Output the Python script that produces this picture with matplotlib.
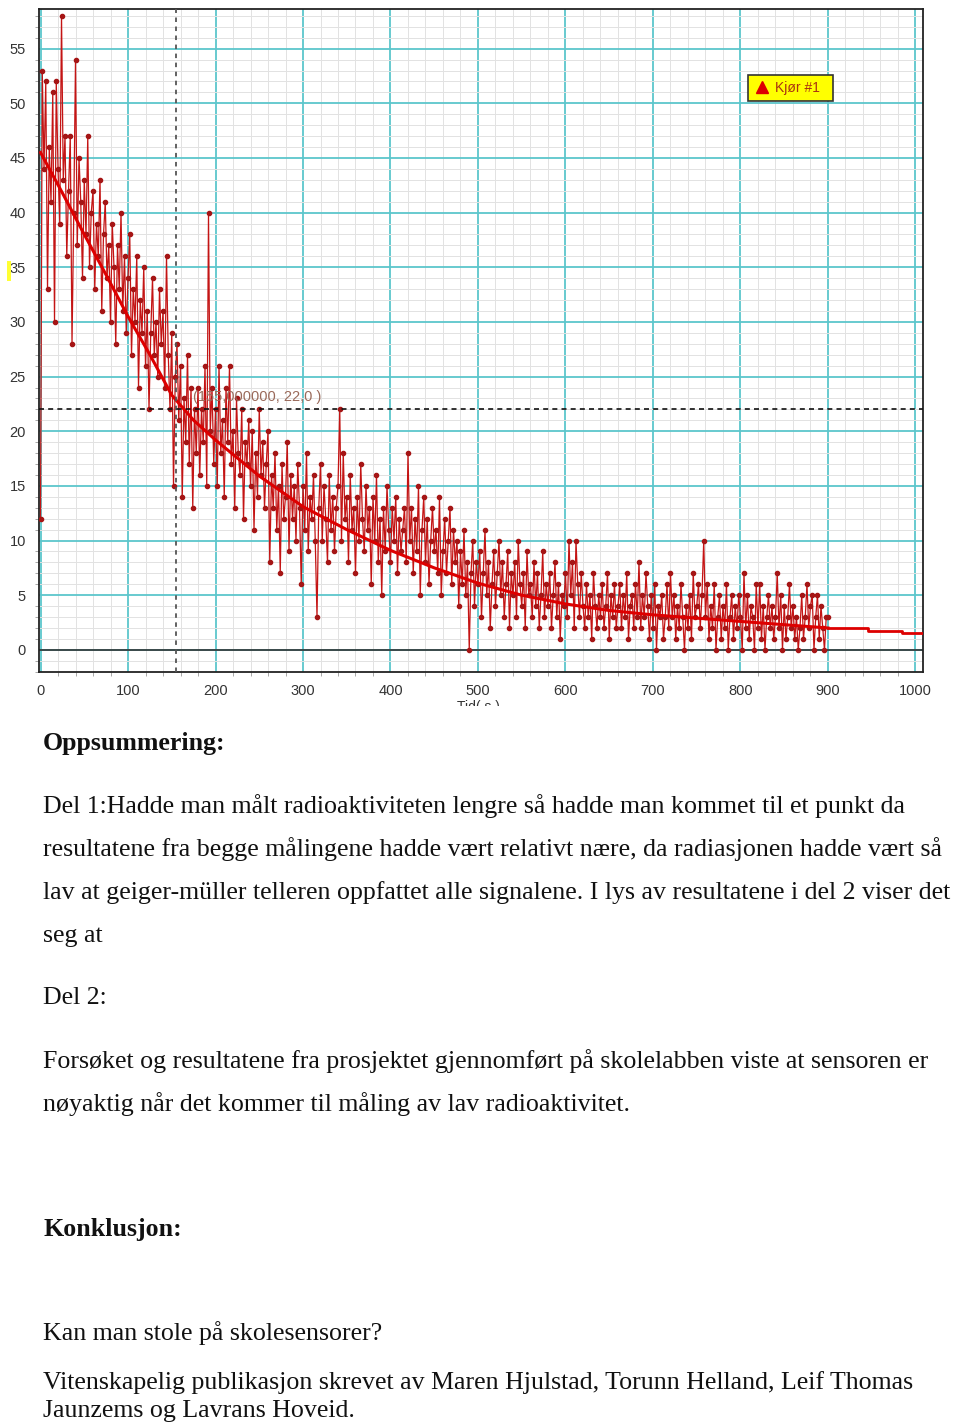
import matplotlib.pyplot as plt
import numpy as np
from matplotlib.patches import Rectangle

# ------------------------------- measured data ------------------------------- #

# counts, one every 2 s from 0 to 900 s
counts = [
    12, 53, 44, 52, 33, 46, 41, 51, 30, 52,
    44, 39, 58, 43, 47, 36, 42, 47, 28, 40,
    54, 37, 45, 41, 34, 43, 38, 47, 35, 40,
    42, 33, 39, 36, 43, 31, 38, 41, 34, 37,
    30, 39, 35, 28, 37, 33, 40, 31, 36, 29,
    34, 38, 27, 33, 30, 36, 24, 32, 29, 35,
    26, 31, 22, 29, 34, 27, 30, 25, 33, 28,
    31, 24, 36, 27, 22, 29, 15, 25, 28, 21,
    26, 14, 23, 19, 27, 17, 24, 13, 22, 18,
    24, 16, 22, 19, 26, 15, 40, 20, 24, 17,
    22, 15, 26, 18, 21, 14, 24, 19, 26, 17,
    20, 13, 23, 18, 16, 22, 12, 19, 17, 21,
    15, 20, 11, 18, 14, 22, 16, 19, 13, 17,
    20, 8, 16, 13, 18, 11, 15, 7, 17, 12,
    14, 19, 9, 16, 12, 15, 10, 17, 13, 6,
    15, 11, 18, 9, 14, 12, 16, 10, 3, 13,
    17, 10, 15, 12, 8, 16, 11, 14, 9, 13,
    15, 22, 10, 18, 12, 14, 8, 16, 11, 13,
    7, 14, 10, 17, 12, 9, 15, 11, 13, 6,
    14, 10, 16, 8, 12, 5, 13, 9, 15, 11,
    8, 13, 10, 14, 7, 12, 9, 11, 13, 8,
    18, 10, 13, 7, 12, 9, 15, 5, 11, 14,
    8, 12, 6, 10, 13, 9, 11, 7, 14, 5,
    9, 12, 7, 10, 13, 6, 11, 8, 10, 4,
    9, 6, 11, 5, 8, 0, 7, 10, 4, 8,
    6, 9, 3, 7, 11, 5, 8, 2, 6, 9,
    4, 7, 10, 5, 8, 3, 6, 9, 2, 7,
    5, 8, 3, 10, 6, 4, 7, 2, 9, 5,
    6, 3, 8, 4, 7, 2, 5, 9, 3, 6,
    4, 7, 2, 5, 8, 3, 6, 1, 5, 4,
    7, 3, 10, 5, 8, 2, 10, 6, 3, 7,
    4, 2, 6, 3, 5, 1, 7, 4, 2, 5,
    3, 6, 2, 4, 7, 1, 5, 3, 6, 2,
    4, 6, 2, 5, 3, 7, 1, 4, 5, 2,
    6, 3, 8, 2, 5, 3, 7, 4, 1, 5,
    2, 6, 0, 4, 3, 5, 1, 3, 6, 2,
    7, 3, 5, 1, 4, 2, 6, 3, 0, 4,
    2, 5, 1, 7, 3, 4, 6, 2, 5, 10,
    3, 6, 1, 4, 2, 6, 0, 3, 5, 1,
    4, 2, 6, 0, 3, 5, 1, 4, 2, 5,
    3, 0, 7, 2, 5, 1, 4, 3, 0, 6,
    2, 6, 1, 4, 0, 3, 5, 2, 4, 1,
    3, 7, 2, 5, 0, 4, 1, 3, 6, 2,
    4, 1, 3, 0, 2, 5, 1, 3, 6, 2,
    4, 5, 0, 3, 5, 1, 4, 2, 0, 3,
    3,
]
tid = np.arange(0, 2 * len(counts), 2)

# fitted decay curve
fit_t = [0, 25, 50, 75, 100, 125, 150, 175, 200, 250, 300, 350, 400, 450,
         500, 550, 600, 650, 700, 750, 800, 850, 900]
fit_v = [45.5, 41.8, 38.0, 34.3, 30.5, 27.0, 23.3, 21.0, 19.2, 15.9, 13.1,
         11.0, 9.1, 7.5, 6.1, 5.0, 4.2, 3.6, 3.2, 2.9, 2.6, 2.3, 2.0]
tail_t = [900, 946, 985, 1008]
tail_v = [2.0, 1.7, 1.5, 1.5]

cursor_x, cursor_y = 155, 22

# --------------------------------- figure ---------------------------------- #

W, H = 960, 1424
fig = plt.figure(figsize=(W / 100, H / 100), dpi=100)
ax = fig.add_axes([38.5 / W, 1 - 671.7 / H, (923 - 38.5) / W, (671.7 - 9.3) / H])

ax.set_xlim(-2.3, 1008.6)
ax.set_ylim(-2, 58.6)

ax.set_xticks(np.arange(0, 1001, 100))
ax.set_yticks(np.arange(0, 56, 5))
ax.set_xticks(np.arange(0, 1001, 20), minor=True)
ax.set_yticks(np.arange(-2, 59, 1), minor=True)
ax.grid(which='minor', color='#e2e2e2', lw=0.7)
ax.grid(which='major', color='#5cc6cc', lw=1.3)
ax.set_axisbelow(True)

ax.tick_params(which='major', length=0, labelsize=10.5, labelcolor='#333333', pad=9)
ax.tick_params(which='minor', length=3, color='#999999', direction='out')
for lab in ax.get_xticklabels() + ax.get_yticklabels():
    lab.set_family('Liberation Sans')
for s in ax.spines.values():
    s.set_color('#222222')
    s.set_linewidth(1.3)

ax.axhline(0, color='#333333', lw=1.2, zorder=2)

# data + fit
ax.plot(tid, counts, color='#c41414', lw=0.9, marker='o', ms=3.0,
        mfc='#a51515', mec='#a51515', zorder=3)
ax.plot(fit_t, fit_v, color='#dd0000', lw=2.2, zorder=4)
ax.plot(tail_t, tail_v, color='#dd0000', lw=2.0, drawstyle='steps-post', zorder=4)

# cursor
ax.axvline(cursor_x, color='#555555', lw=1.3, ls=(0, (2.5, 2.5)), zorder=5)
ax.axhline(cursor_y, color='#111111', lw=1.2, ls=(0, (3, 2.5)), zorder=5)
ax.text(174, 23.1, '(155,000000, 22,0 )', fontsize=10.5,
        color='#9a6a5a', family='Liberation Sans', va='center', zorder=6)

# run legend
ax.add_patch(Rectangle((0.802, 0.862), 0.096, 0.039, transform=ax.transAxes,
                       facecolor='#ffff00', edgecolor='#333333', lw=1.2, zorder=6))
ax.plot([0.818], [0.883], marker='^', ms=9, color='#dd0000',
        transform=ax.transAxes, zorder=7)
ax.text(0.833, 0.881, 'Kjør #1', transform=ax.transAxes, fontsize=10,
        color='#aa3311', family='Liberation Sans', va='center', zorder=7)

# axis title, cut at the bottom like the screenshot
fig.text(478 / W, 1 - 707 / H, 'Tid( s )', ha='center', va='center',
         fontsize=10, color='#333333', family='Liberation Sans')
fig.patches.append(Rectangle((0, 0), 1, 1 - 706 / H, transform=fig.transFigure,
                             facecolor='white', edgecolor='none', zorder=10))
fig.patches.append(Rectangle((7 / W, 1 - 281 / H), 4 / W, 20 / H,
                             transform=fig.transFigure, facecolor='#ffff33',
                             edgecolor='none', zorder=1))

# ---------------------------------- text ----------------------------------- #

serif = 'Liberation Serif'
body = 18.6
lines = [
    (750, 'Oppsummering:', True),
    (813, 'Del 1:Hadde man målt radioaktiviteten lengre så hadde man kommet til et punkt da', False),
    (856, 'resultatene fra begge målingene hadde vært relativt nære, da radiasjonen hadde vært så', False),
    (899, 'lav at geiger-müller telleren oppfattet alle signalene. I lys av resultatene i del 2 viser det', False),
    (942, 'seg at', False),
    (1004, 'Del 2:', False),
    (1068, 'Forsøket og resultatene fra prosjektet gjennomført på skolelabben viste at sensoren er', False),
    (1111, 'nøyaktig når det kommer til måling av lav radioaktivitet.', False),
    (1236, 'Konklusjon:', True),
    (1340, 'Kan man stole på skolesensorer?', False),
    (1389, 'Vitenskapelig publikasjon skrevet av Maren Hjulstad, Torunn Helland, Leif Thomas', False),
    (1417, 'Jaunzems og Lavrans Hoveid.', False),
]
for y, txt, bold in lines:
    fig.text(43 / W, 1 - y / H, txt, fontsize=body, family=serif,
             weight='bold' if bold else 'normal', va='baseline', ha='left',
             color='#111111', zorder=11)

fig.savefig('out.png', dpi=100)
